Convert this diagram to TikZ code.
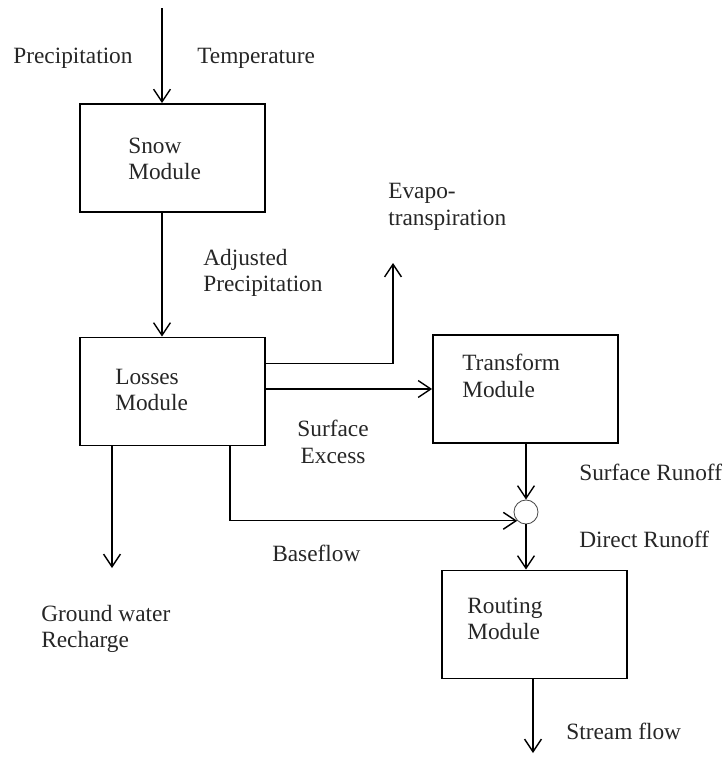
\documentclass[tikz,border=0pt]{standalone}
\usepackage{fontspec}
\setmainfont{Liberation Serif}
\usepackage{tikz}
\usetikzlibrary{arrows.meta,positioning,calc}

\begin{document}
\begin{tikzpicture}[
  x=0.025cm, y=-0.025cm,
  mbox/.style={rectangle, draw, line width=1.3pt, minimum width=4.625cm,
               minimum height=2.7cm, inner sep=0pt},
  lbl/.style={font=\fontsize{16.6}{18.8}\selectfont, text=black!85,
              align=left, anchor=west, inner sep=0pt},
  jbox/.style={circle, draw=black!70, line width=0.6pt, minimum size=0.6cm, inner sep=0pt},
  farr/.style={-{Straight Barb[length=9pt,width=12pt]}, line width=1pt}
]
\useasboundingbox (0,0) rectangle (725,757);

% Module boxes
\node[mbox] (snow)  at (172.5,158)   {};
\node[mbox] (loss)  at (172.5,391.5) {};
\node[mbox] (trans) at (525.5,389)   {};
\node[mbox] (rout)  at (534.5,624.5) {};
\node[jbox] (jn)    at (526,512)     {};

% Box texts
\node[lbl] (snowt)  at (128,159) {Snow\\Module};
\node[lbl] (losst)  at (115,390) {Losses\\Module};
\node[lbl] (transt) at (462,376) {Transform\\Module};
\node[lbl] (routt)  at (467,619) {Routing\\Module};

% Flow labels
\node[lbl] (prec) at (13,58)   {Precipitation};
\node[lbl] (temp) at (197,58)  {Temperature};
\node[lbl] (adj)  at (203,273) {Adjusted\\Precipitation};
\node[lbl] (evap) at (388,207) {Evapo-\\transpiration};
\node[lbl, align=center, anchor=center] (sexc) at (333,442) {Surface\\Excess};
\node[lbl] (srun) at (579,472) {Surface Runoff};
\node[lbl] (drun) at (579,539) {Direct Runoff};
\node[lbl] (bfl)  at (272,553) {Baseflow};
\node[lbl] (gwr)  at (41,629)  {Ground water\\Recharge};
\node[lbl] (sfl)  at (566,731) {Stream flow};

% Free ends
\coordinate (pin) at (162,8);
\coordinate (et)  at (393,263);
\coordinate (gw)  at (112,568);
\coordinate (bf)  at (230,525);
\coordinate (sf)  at (533,753);

% Arrows
\draw[farr] (pin) -- (pin |- snow.north);
\draw[farr] (snow.south -| pin) -- (loss.north -| pin);
\draw[farr] ($(loss.north east)+(0,27)$) -| (et);
\draw[farr] (loss.east |- trans.west) -- (trans.west);
\draw[farr] (trans.south -| jn.north) -- (jn.north);
\draw[farr] (jn.south) -- (jn.south |- rout.north);
\draw[farr] (rout.south -| sf) -- (sf);
\draw[farr] (loss.south -| gw) -- (gw);
\draw[farr] (loss.south -| bf) |- (jn.south west);
\end{tikzpicture}
\end{document}
